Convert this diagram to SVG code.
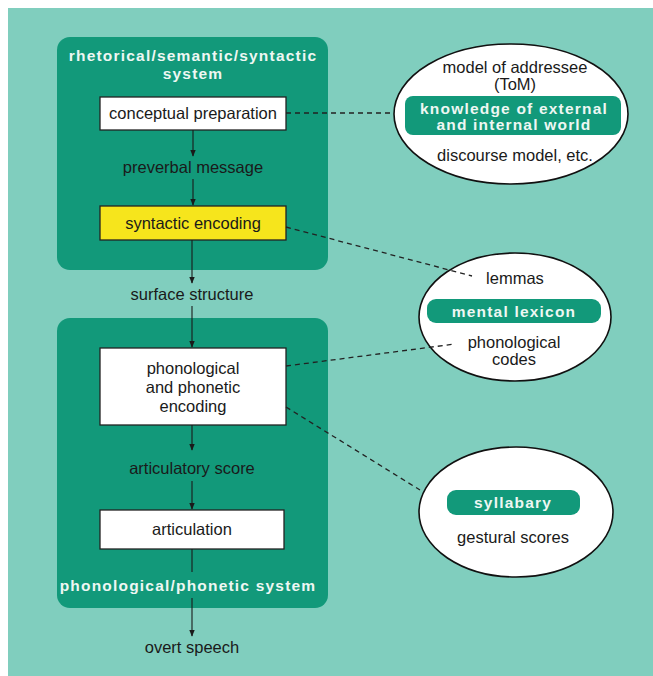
<svg xmlns="http://www.w3.org/2000/svg" width="653" height="676" viewBox="0 0 653 676">
<defs>
<marker id="ah" viewBox="0 0 10 10" refX="9" refY="5" markerWidth="7" markerHeight="7" orient="auto" markerUnits="userSpaceOnUse">
<path d="M0,1 L10,5 L0,9 z" fill="#1a1a1a"/>
</marker>
<style>
.sys{fill:#12997a}
.box{fill:#fff;stroke:#222;stroke-width:1.3}
.ell{fill:#fff;stroke:#111;stroke-width:1.6}
.pill{fill:#12997a}
.t{font-family:"Liberation Sans",Arial,sans-serif;font-size:16.5px;fill:#1a1a1a;text-anchor:middle}
.w{font-family:"Liberation Sans",Arial,sans-serif;font-size:15.5px;font-weight:bold;fill:#eef7f3;text-anchor:middle;letter-spacing:1.2px}
.arr{stroke:#1a1a1a;stroke-width:1.1;fill:none;marker-end:url(#ah)}
.ln{stroke:#1a1a1a;stroke-width:1.1;fill:none}
.dash{stroke:#222;stroke-width:1.3;fill:none;stroke-dasharray:5,4}
</style>
</defs>
<rect x="0" y="0" width="653" height="676" fill="#fff"/>
<rect x="8" y="8" width="645" height="668" fill="#80cebe"/>

<g id="semantic-system">
<rect class="sys" x="57" y="37" width="271" height="233" rx="13"/>
<text class="w" x="193" y="61">rhetorical/semantic/syntactic</text>
<text class="w" x="193" y="79">system</text>
</g>
<g id="phonetic-system">
<rect class="sys" x="57" y="318" width="271" height="290" rx="13"/>
<text class="w" x="188" y="591">phonological/phonetic system</text>
</g>

<g id="conceptual-preparation">
<rect class="box" x="100" y="97" width="186" height="33"/>
<text class="t" x="193" y="119">conceptual preparation</text>
</g>
<g id="preverbal-message">
<text class="t" x="193" y="173">preverbal message</text>
</g>
<g id="syntactic-encoding">
<rect x="100" y="206" width="186" height="34" fill="#f6e51c" stroke="#222" stroke-width="1.3"/>
<text class="t" x="193" y="229">syntactic encoding</text>
</g>
<g id="surface-structure">
<text class="t" x="192" y="300">surface structure</text>
</g>
<g id="phonological-encoding">
<rect class="box" x="100" y="348" width="186" height="77"/>
<text class="t" x="193" y="374">phonological</text>
<text class="t" x="193" y="393">and phonetic</text>
<text class="t" x="193" y="412">encoding</text>
</g>
<g id="articulatory-score">
<text class="t" x="192" y="474">articulatory score</text>
</g>
<g id="articulation">
<rect class="box" x="100" y="510" width="184" height="39"/>
<text class="t" x="192" y="535">articulation</text>
</g>
<g id="overt-speech">
<text class="t" x="192" y="653">overt speech</text>
</g>

<g id="world-knowledge">
<ellipse class="ell" cx="511" cy="114" rx="117" ry="70"/>
<text class="t" x="515" y="73">model of addressee</text>
<text class="t" x="515" y="90">(ToM)</text>
<rect class="pill" x="405" y="96" width="216" height="39" rx="8"/>
<text class="w" x="514" y="114">knowledge of external</text>
<text class="w" x="514" y="130">and internal world</text>
<text class="t" x="515" y="161">discourse model, etc.</text>
</g>
<g id="mental-lexicon">
<ellipse class="ell" cx="515" cy="317" rx="96" ry="64"/>
<text class="t" x="515" y="284">lemmas</text>
<rect class="pill" x="427" y="299" width="174" height="24" rx="9"/>
<text class="w" x="514" y="317">mental lexicon</text>
<text class="t" x="514" y="348">phonological</text>
<text class="t" x="514" y="365">codes</text>
</g>
<g id="syllabary">
<ellipse class="ell" cx="516" cy="512" rx="97" ry="65"/>
<rect class="pill" x="447" y="490" width="133" height="25" rx="9"/>
<text class="w" x="513" y="508">syllabary</text>
<text class="t" x="513" y="543">gestural scores</text>
</g>

<g id="connectors">
<line class="arr" x1="193" y1="130" x2="193" y2="156"/>
<line class="arr" x1="193" y1="179" x2="193" y2="205"/>
<line class="arr" x1="192" y1="240" x2="192" y2="283"/>
<line class="arr" x1="192" y1="306" x2="192" y2="347"/>
<line class="arr" x1="192" y1="425" x2="192" y2="450"/>
<line class="arr" x1="192" y1="481" x2="192" y2="509"/>
<line class="ln" x1="192" y1="549" x2="192" y2="572"/>
<line class="arr" x1="192" y1="598" x2="192" y2="636"/>
<line class="dash" x1="286" y1="113" x2="394" y2="113"/>
<line class="dash" x1="286" y1="227" x2="472" y2="276"/>
<line class="dash" x1="286" y1="366" x2="455" y2="344"/>
<line class="dash" x1="286" y1="407" x2="420" y2="490"/>
</g>
</svg>
